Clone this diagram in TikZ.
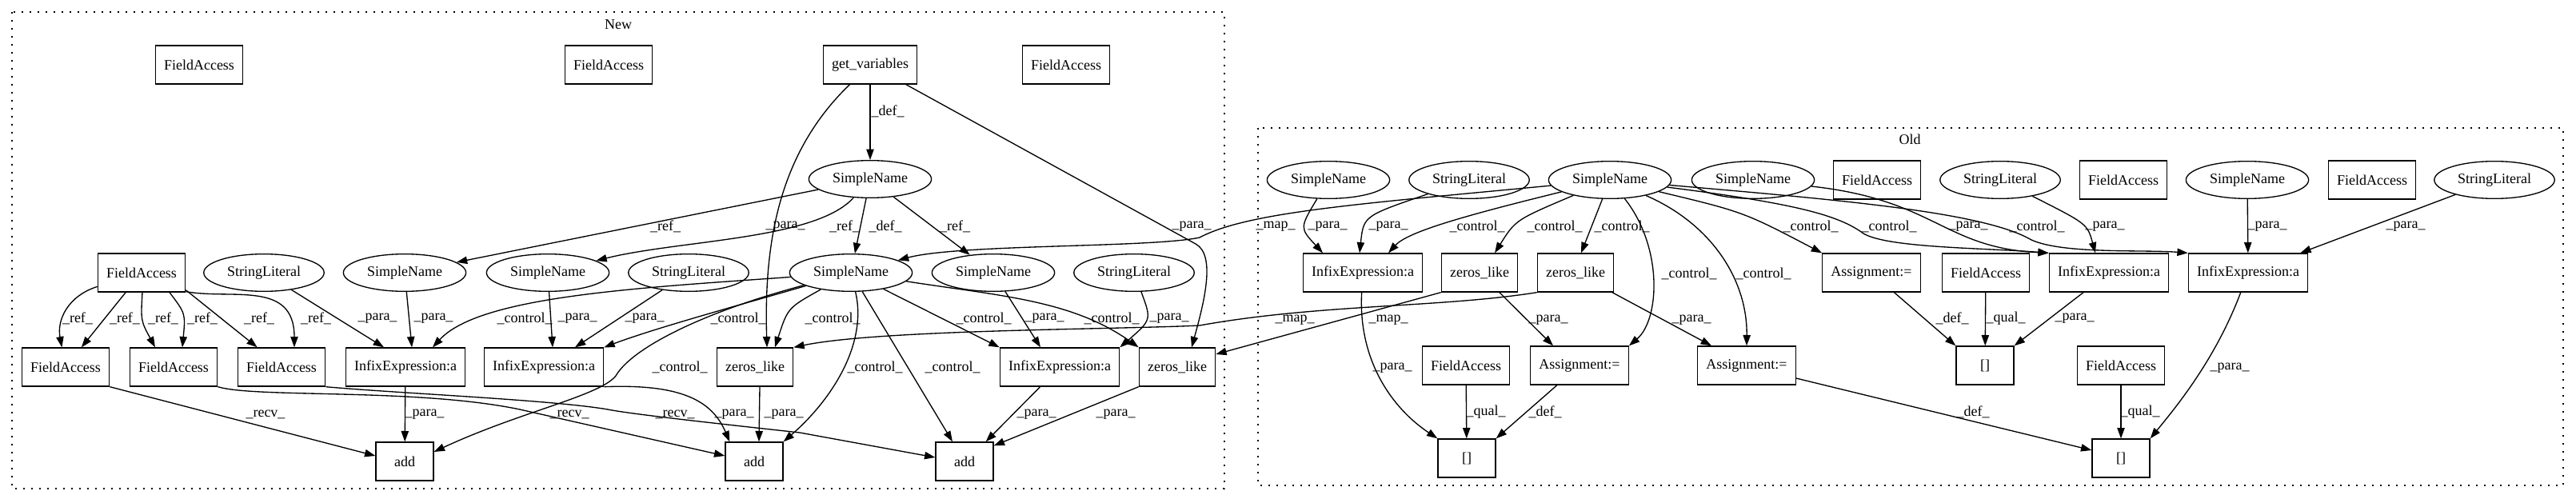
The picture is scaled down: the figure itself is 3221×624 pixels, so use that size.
\documentclass[tikz,border=0pt]{standalone}
\usepackage{fontspec}
\setmainfont{Liberation Serif}
\usetikzlibrary{arrows.meta,shapes.geometric,calc}

\tikzset{every picture/.style={line width=1pt},
  fabox/.style={draw, rectangle, minimum width=54pt, minimum height=36pt, inner xsep=8pt, inner ysep=2pt},
  ellnode/.style={draw, ellipse, minimum height=35pt, inner xsep=5.4pt, inner ysep=2pt},
  edge/.style={-{Triangle[length=10pt,width=7pt]}},
  lbl/.style={inner sep=0pt},
  clus/.style={draw, dash pattern=on 1.5pt off 6pt}
}

\begin{document}
\begin{tikzpicture}[x=0.75pt,y=0.75pt,yscale=-1,xscale=1,font=\fontsize{13.5}{16}\selectfont]
\useasboundingbox (0,0) rectangle (3221,624);

% clusters
\draw[clus] (15,15) rectangle (1531,611);
\node[lbl] (tnew) at (773,31) {New};
\draw[clus] (1573,160) rectangle (3205,607);
\node[lbl] (told) at (2388,174) {Old};

% New: nodes
\node[fabox] (nfa1) at (249,81) {FieldAccess};
\node[fabox] (nfa2) at (761,81) {FieldAccess};
\node[fabox] (ngv) at (1088,81) {get\_variables};
\node[fabox] (nfa3) at (1333,81) {FieldAccess};
\node[ellnode] (nsn0) at (1088,224) {SimpleName};
\node[fabox] (nfa4) at (177,341) {FieldAccess};
\node[ellnode] (nsl1) at (330,341) {StringLiteral};
\node[ellnode] (nsn1) at (506,341) {SimpleName};
\node[ellnode] (nsn2) at (685,341) {SimpleName};
\node[ellnode] (nsl2) at (861,341) {StringLiteral};
\node[ellnode] (nsn3) at (1064,341) {SimpleName};
\node[ellnode] (nsn4) at (1242,341) {SimpleName};
\node[ellnode] (nsl3) at (1418,341) {StringLiteral};
\node[fabox] (nfa5) at (82,459) {FieldAccess};
\node[fabox] (nfa6) at (217,459) {FieldAccess};
\node[fabox] (nfa7) at (352,459) {FieldAccess};
\node[fabox] (nie1) at (507,459) {InfixExpression:a};
\node[fabox] (nie2) at (680,459) {InfixExpression:a};
\node[fabox] (nzl1) at (944,459) {zeros\_like};
\node[fabox] (nie3) at (1325,459) {InfixExpression:a};
\node[fabox] (nzl2) at (1472,459) {zeros\_like};
\node[fabox] (nadd1) at (506,577) {add};
\node[fabox] (nadd2) at (943,577) {add};
\node[fabox] (nadd3) at (1206,577) {add};

% Old: nodes
\node[ellnode] (osn1) at (1661,225) {SimpleName};
\node[ellnode] (osl1) at (1837,225) {StringLiteral};
\node[ellnode] (osn0) at (2013,225) {SimpleName};
\node[ellnode] (osn2) at (2192,225) {SimpleName};
\node[fabox] (ofa1) at (2347,225) {FieldAccess};
\node[ellnode] (osl2) at (2501,225) {StringLiteral};
\node[fabox] (ofa2) at (2655,225) {FieldAccess};
\node[ellnode] (osn3) at (2810,225) {SimpleName};
\node[fabox] (ofa3) at (2966,225) {FieldAccess};
\node[ellnode] (osl3) at (3119,225) {StringLiteral};
\node[fabox] (oie1) at (1704,341) {InfixExpression:a};
\node[fabox] (ozl1) at (1850,341) {zeros\_like};
\node[fabox] (ozl2) at (1970,341) {zeros\_like};
\node[fabox] (oas1) at (2340,341) {Assignment:=};
\node[fabox] (ofa4) at (2483,341) {FieldAccess};
\node[fabox] (oie2) at (2637,341) {InfixExpression:a};
\node[fabox] (oie3) at (2811,341) {InfixExpression:a};
\node[fabox] (ofa5) at (1833,457) {FieldAccess};
\node[fabox] (oas2) at (1975,457) {Assignment:=};
\node[fabox] (oas3) at (2184,457) {Assignment:=};
\node[fabox] (oar1) at (2482,457) {[]};
\node[fabox] (ofa6) at (2652,457) {FieldAccess};
\node[fabox] (oar2) at (1834,573) {[]};
\node[fabox] (oar3) at (2652,573) {[]};

% New: edges
\draw[edge] (ngv) -- (nsn0) node[lbl,at={(1110,139)}] {\_def\_};
\draw[edge] (ngv) .. controls (975,190) and (955,300) .. ($(nzl1.north)+(15,0)$) node[lbl,at={(982,283)}] {\_para\_};
\draw[edge] (ngv) -- (1495,305) .. controls (1521,319) and (1505,380) .. ($(nzl2.north)+(18,0)$) node[lbl,at={(1490,283)}] {\_para\_};
\draw[edge] (nsn0) -- (nsn1) node[lbl,at={(832,283)}] {\_ref\_};
\draw[edge] (nsn0) .. controls (1020,300) and (850,300) .. (nsn2) node[lbl,at={(1056,283)}] {\_ref\_};
\draw[edge] (nsn0) -- (nsn3) node[lbl,at={(1107,283)}] {\_def\_};
\draw[edge] (nsn0) -- (nsn4) node[lbl,at={(1194,283)}] {\_ref\_};
\draw[edge] (nfa4) .. controls (85,370) and (71,400) .. (nfa5) node[lbl,at={(97,398)}] {\_ref\_};
\draw[edge] (nfa4) -- (nfa5) node[lbl,at={(156,398)}] {\_ref\_};
\draw[edge] ($(nfa4.south)+(1,0)$) .. controls (176,401) .. ($(nfa6.north)+(-23,0)$) node[lbl,at={(204,398)}] {\_ref\_};
\draw[edge] ($(nfa4.south)+(35,0)$) .. controls (232,392) .. ($(nfa6.north)+(11,0)$) node[lbl,at={(253,398)}] {\_ref\_};
\draw[edge] ($(nfa4.south east)+(0,-3)$) -- ($(nfa7.north west)+(25,0)$) node[lbl,at={(324,398)}] {\_ref\_};
\draw[edge] ($(nfa4.south east)+(0,-1)$) .. controls (290,375) and (368,350) .. ($(nfa7.north)+(16,0)$) node[lbl,at={(395,398)}] {\_ref\_};
\draw[edge] (nsl1) -- ($(nie1.north)+(-27,0)$) node[lbl,at={(472,398)}] {\_para\_};
\draw[edge] (nsn1) -- ($(nie1.north)+(8,0)$) node[lbl,at={(542,398)}] {\_para\_};
\draw[edge] (nsn3) .. controls (800,360) and (600,370) .. ($(nie1.north)+(34,0)$) node[lbl,at={(656,398)}] {\_control\_};
\draw[edge] (nsn2) -- ($(nie2.north)+(11,0)$) node[lbl,at={(722,398)}] {\_para\_};
\draw[edge] (nsl2) -- ($(nie2.north)+(39,0)$) node[lbl,at={(806,398)}] {\_para\_};
\draw[edge] (nsn3) .. controls (930,380) and (820,410) .. (nie2.north east) node[lbl,at={(923,398)}] {\_control\_};
\draw[edge] (nsn3) .. controls (880,390) and (790,435) .. (770,470) .. controls (750,495) and (650,515) .. ($(nadd1.east)+(0,-12)$) node[lbl,at={(850,459)}] {\_control\_};
\draw[edge] (nsn3) .. controls (985,385) .. ($(nzl1.north)+(25,0)$) node[lbl,at={(1041,398)}] {\_control\_};
\draw[edge] (nsn3) .. controls (1085,430) and (1040,500) .. (nadd2.north east) node[lbl,at={(1094,459)}] {\_control\_};
\draw[edge] (nsn3) -- ($(nadd3.north)+(-15,0)$) node[lbl,at={(1191,459)}] {\_control\_};
\draw[edge] (nsn3) -- (nie3.north west) node[lbl,at={(1230,398)}] {\_control\_};
\draw[edge] (nsn3) .. controls (1250,370) and (1340,375) .. (nzl2.north west) node[lbl,at={(1390,398)}] {\_control\_};
\draw[edge] (nsn4) -- ($(nie3.north)+(-24,0)$) node[lbl,at={(1306,398)}] {\_para\_};
\draw[edge] (nsl3) .. controls (1440,400) .. (nie3.north east) node[lbl,at={(1462,398)}] {\_para\_};
\draw[edge] (nie1) -- (nadd1) node[lbl,at={(531,518)}] {\_para\_};
\draw[edge] ($(nzl1.south)+(6,0)$) -- ($(nadd2.north)+(6,0)$) node[lbl,at={(980,518)}] {\_para\_};
\draw[edge] (nie2.south east) .. controls (850,480) and (890,500) .. ($(nadd2.north west)+(6,0)$) node[lbl,at={(918,518)}] {\_para\_};
\draw[edge] (nfa5.south east) -- ($(nadd1.west)+(0,-7)$) node[lbl,at={(332,518)}] {\_recv\_};
\draw[edge] (nfa6.south east) .. controls (320,498) and (520,485) .. (650,512) -- ($(nadd2.west)+(0,-7)$) node[lbl,at={(712,518)}] {\_recv\_};
\draw[edge] (nfa7.south east) .. controls (500,492) and (690,500) .. (760,512) .. controls (790,518) and (900,530) .. (1000,541) -- ($(nadd3.west)+(0,-5)$) node[lbl,at={(844,518)}] {\_recv\_};
\draw[edge] (nie3) -- ($(nadd3.north east)+(-10,0)$) node[lbl,at={(1296,518)}] {\_para\_};
\draw[edge] (nzl2.south west) -- ($(nadd3.north east)+(0,5)$) node[lbl,at={(1395,518)}] {\_para\_};

% Old -> New
\draw[edge] (osn0) .. controls (1700,255) and (1560,265) .. (1500,297) .. controls (1440,310) and (1200,305) .. (nsn3) node[lbl,at={(1595,283)}] {\_map\_};
\draw[edge] (ozl1.south west) -- ($(nzl2.east)+(0,-16)$) node[lbl,at={(1736,400)}] {\_map\_};
\draw[edge] (ozl2.south west) .. controls (1800,385) and (1650,380) .. (1500,407) .. controls (1400,412) and (1100,412) .. (nzl1.north east) node[lbl,at={(1619,400)}] {\_map\_};

% Old: edges
\draw[edge] (osn1) .. controls (1625,285) .. ($(oie1.north)+(-50,0)$) node[lbl,at={(1660,283)}] {\_para\_};
\draw[edge] (osl1) .. controls (1705,270) .. ($(oie1.north)+(-4,0)$) node[lbl,at={(1736,283)}] {\_para\_};
\draw[edge] (osn0) .. controls (1830,270) and (1760,290) .. ($(oie1.north)+(32,0)$) node[lbl,at={(1847,283)}] {\_control\_};
\draw[edge] (osn0) .. controls (1895,275) .. ($(ozl1.north)+(19,0)$) node[lbl,at={(1944,283)}] {\_control\_};
\draw[edge] (osn0) -- ($(ozl2.north)+(7,0)$) node[lbl,at={(2028,283)}] {\_control\_};
\draw[edge] (osn0) .. controls (2080,310) and (2075,400) .. (oas2.north east) node[lbl,at={(2112,342)}] {\_control\_};
\draw[edge] (osn0) .. controls (2140,280) and (2185,350) .. (oas3.north) node[lbl,at={(2205,342)}] {\_control\_};
\draw[edge] (osn0) .. controls (2180,265) .. (oas1.north west) node[lbl,at={(2264,283)}] {\_control\_};
\draw[edge] (osn0) .. controls (2250,255) and (2300,270) .. (2330,292) .. controls (2360,310) and (2480,310) .. (oie2.north west) node[lbl,at={(2362,283)}] {\_control\_};
\draw[edge] (osn2) .. controls (2420,250) and (2430,310) .. (oie2.north west) node[lbl,at={(2461,283)}] {\_para\_};
\draw[edge] (osn0) .. controls (2300,250) and (2480,265) .. (2540,300) .. controls (2580,318) and (2680,312) .. (oie3.north west) node[lbl,at={(2547,283)}] {\_control\_};
\draw[edge] (osl2) .. controls (2610,280) .. ($(oie2.north)+(-17,0)$) node[lbl,at={(2632,283)}] {\_para\_};
\draw[edge] (osn3) -- (oie3) node[lbl,at={(2835,283)}] {\_para\_};
\draw[edge] (osl3) -- ($(oie3.north east)+(-10,0)$) node[lbl,at={(3008,283)}] {\_para\_};
\draw[edge] (oas1) -- (oar1.north west) node[lbl,at={(2441,398)}] {\_def\_};
\draw[edge] (ofa4) -- (oar1) node[lbl,at={(2508,398)}] {\_qual\_};
\draw[edge] (oie2) -- (oar1.north east) node[lbl,at={(2594,398)}] {\_para\_};
\draw[edge] (oie3) .. controls (2770,450) and (2720,510) .. (oar3.north east) node[lbl,at={(2788,460)}] {\_para\_};
\draw[edge] (ofa6) -- (oar3) node[lbl,at={(2676,515)}] {\_qual\_};
\draw[edge] ($(oas3.east)+(0,16)$) -- ($(oar3.west)+(0,-10)$) node[lbl,at={(2467,515)}] {\_def\_};
\draw[edge] (ozl1) -- ($(oas2.north)+(-33,0)$) node[lbl,at={(1936,400)}] {\_para\_};
\draw[edge] (ozl2) -- ($(oas3.north)+(-44,0)$) node[lbl,at={(2115,400)}] {\_para\_};
\draw[edge] (oie1) .. controls (1698,450) and (1740,510) .. (oar2.north west) node[lbl,at={(1741,460)}] {\_para\_};
\draw[edge] (ofa5) -- (oar2) node[lbl,at={(1858,515)}] {\_qual\_};
\draw[edge] (oas2) -- (oar2.north east) node[lbl,at={(1932,515)}] {\_def\_};

\end{tikzpicture}
\end{document}
